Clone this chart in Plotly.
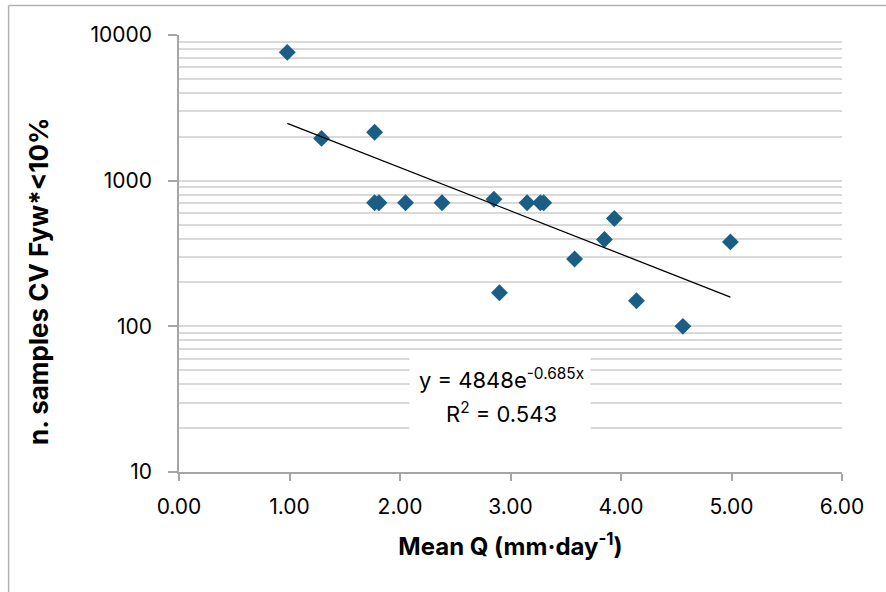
import numpy as np
import plotly.graph_objects as go

# mean discharge (mm/day) and number of samples needed for CV Fyw* < 10%
mean_q = [0.98, 1.29, 1.77, 1.77, 1.81, 2.05, 2.38, 2.85, 2.90, 3.15, 3.27, 3.30,
          3.58, 3.85, 3.94, 4.14, 4.56, 4.99]
n_samples = [7600, 1950, 2150, 705, 705, 705, 705, 745, 170, 705, 705, 705,
             290, 395, 550, 150, 100, 380]

# exponential trendline as reported on the chart
fit_a = 4848
fit_b = -0.685
fit_r2 = 0.543

y_major = [10, 100, 1000, 10000]
y_minor = [m * 10 ** p for p in range(1, 4) for m in range(2, 10)]

marker_color = "#1b5e85"
grid_color = "#d9d9d9"
axis_color = "#a6a6a6"
font_family = "Inter, Liberation Sans, Arial, sans-serif"

fig = go.Figure()

fig.add_trace(go.Scatter(
    x=mean_q, y=n_samples,
    mode="markers",
    marker=dict(symbol="diamond", size=13, color=marker_color),
    showlegend=False
))

xs = np.linspace(min(mean_q), max(mean_q), 50)
fig.add_trace(go.Scatter(
    x=xs, y=fit_a * np.exp(fit_b * xs),
    mode="lines",
    line=dict(color="black", width=1.3),
    showlegend=False
))

eq_font = dict(size=22)

fig.update_layout(
    width=886, height=592,
    margin=dict(l=179, r=44, t=35, b=120),
    paper_bgcolor="white",
    plot_bgcolor="white",
    font=dict(family=font_family, size=21, color="black"),
    xaxis=dict(
        range=[0, 6], dtick=1, tickformat=".2f",
        showgrid=False, zeroline=False,
        showline=True, linecolor=axis_color, linewidth=1.5,
        ticks="outside", ticklen=7, tickcolor=axis_color, tickwidth=1.5,
        ticklabelstandoff=8,
        title=dict(text="<b>Mean Q (mm·day<sup>-1</sup>)</b>", standoff=20,
                   font=dict(size=24))
    ),
    yaxis=dict(
        type="log", range=[1, 4],
        tickvals=y_major, ticktext=[str(v) for v in y_major],
        showgrid=True, gridcolor=grid_color, gridwidth=1.5,
        zeroline=False,
        showline=True, linecolor=axis_color, linewidth=1.5,
        ticks="outside", ticklen=9, tickcolor=axis_color, tickwidth=1.5,
        ticklabelstandoff=12,
        minor=dict(tickvals=y_minor, showgrid=True, gridcolor=grid_color,
                   gridwidth=1.5, ticks="")
    ),
    annotations=[
        # white label box behind the trendline equation
        dict(
            xref="paper", yref="paper", x=0.484, y=0.181,
            xanchor="center", yanchor="middle",
            text=" ", showarrow=False,
            bgcolor="white", width=178, height=80
        ),
        dict(
            xref="paper", yref="paper", x=0.486, y=0.214,
            xanchor="center", yanchor="middle",
            text=f"y = {fit_a}e<sup>{fit_b}x</sup>",
            showarrow=False, font=eq_font
        ),
        dict(
            xref="paper", yref="paper", x=0.486, y=0.136,
            xanchor="center", yanchor="middle",
            text=f"R<sup>2</sup> = {fit_r2}",
            showarrow=False, font=eq_font
        ),
        dict(
            xref="paper", yref="paper", x=-0.212, y=0.438,
            text="<b>n. samples CV Fyw*<10%</b>",
            textangle=-90, showarrow=False,
            xanchor="center", yanchor="middle",
            font=dict(size=26)
        )
    ],
    shapes=[
        dict(type="line", xref="paper", yref="paper",
             x0=-0.257, x1=1.2, y0=1.0675, y1=1.0675,
             line=dict(color="#b3b3b3", width=1.5)),
        dict(type="line", xref="paper", yref="paper",
             x0=-0.257, x1=-0.257, y0=1.0675, y1=-0.5,
             line=dict(color="#b3b3b3", width=1.5))
    ]
)

fig.write_html("out.html", config=dict(displayModeBar=False),
               post_script="document.body.style.margin='0';")
